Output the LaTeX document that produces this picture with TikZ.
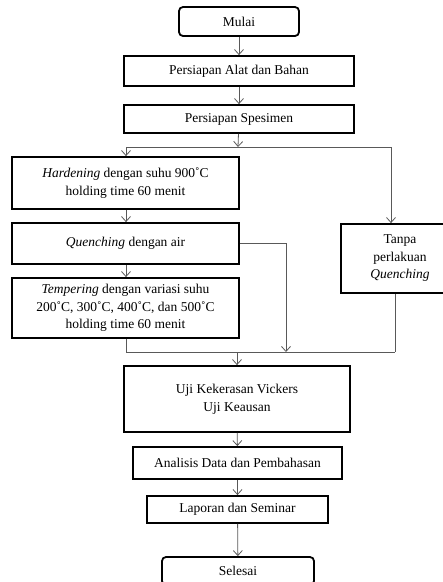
\documentclass[tikz,border=0pt]{standalone}
\usepackage{fontspec}
\setmainfont{Liberation Serif}
\usetikzlibrary{arrows.meta}

\tikzset{
 kotak/.style={draw=black,line width=1.8pt,align=center,inner sep=0pt,
  font=\fontsize{13.5}{17.5}\selectfont},
 bulat/.style={kotak,rounded corners=4pt},
 garis/.style={draw=black!65,line width=0.8pt},
 panah/.style={garis,-{Straight Barb[length=5pt,width=9pt]}}
}

\begin{document}
\begin{tikzpicture}[x=1pt,y=-1pt]
 \useasboundingbox (0,0) rectangle (443,582); %全体
 \node[bulat,minimum width=120pt,minimum height=29pt] (mulai) at (239,21.5) {Mulai}; %開始
 \node[kotak,minimum width=230pt,minimum height=30pt] (alat) at (239,71) {Persiapan Alat dan Bahan};
 \node[kotak,minimum width=230pt,minimum height=28pt] (spesimen) at (239,119) {Persiapan Spesimen};
 \node[kotak,minimum width=227pt,minimum height=52pt] (hardening) at (125.5,183)
  {\textit{Hardening} dengan suhu 900˚C\\holding time 60 menit};
 \node[kotak,minimum width=227pt,minimum height=41pt] (quenching) at (125.5,243.5)
  {\textit{Quenching} dengan air};
 \node[kotak,minimum width=227pt,minimum height=60pt] (tempering) at (125.5,308)
  {\textit{Tempering} dengan variasi suhu\\200˚C, 300˚C, 400˚C, dan 500˚C\\holding time 60 menit};
 \node[kotak,minimum width=118pt,minimum height=69pt] (tanpa) at (400,258.5)
  {Tanpa\\perlakuan\\\textit{Quenching}}; %右の枝
 \node[kotak,minimum width=226pt,minimum height=66pt] (uji) at (237,399)
  {Uji Kekerasan Vickers\\Uji Keausan};
 \node[kotak,minimum width=209pt,minimum height=32pt] (analisis) at (237.5,463) {Analisis Data dan Pembahasan};
 \node[kotak,minimum width=181pt,minimum height=27pt] (laporan) at (237.5,509.5) {Laporan dan Seminar};
 \node[bulat,minimum width=152pt,minimum height=28pt] (selesai) at (238,571) {Selesai}; %終了

 \coordinate (cabang) at (238,147); %分岐点
 \coordinate (cabangL) at (126,147);
 \coordinate (cabangR) at (391,147);
 \coordinate (gabung) at (237,352); %合流点
 \coordinate (gabungL) at (126,352);
 \coordinate (gabungQ) at (286,352);
 \coordinate (gabungR) at (395,352);

 \draw[panah] (mulai) -- (alat);
 \draw[panah] (alat) -- (spesimen);
 \draw[panah] (spesimen) -- (cabang);
 \draw[garis] (cabangL) -- (cabangR);
 \draw[panah] (cabangL) -- (hardening.north -| cabangL);
 \draw[panah] (cabangR) -- (tanpa.north -| cabangR);
 \draw[panah] (hardening.south -| cabangL) -- (quenching.north -| cabangL);
 \draw[panah] (quenching.south -| cabangL) -- (tempering.north -| cabangL);
 \draw[panah] (quenching.east) -| (gabungQ); %焼入れのみ
 \draw[garis] (tempering.south -| gabungL) -- (gabungL);
 \draw[garis] (tanpa.south -| gabungR) -- (gabungR);
 \draw[garis] (gabungL) -- (gabungR);
 \draw[panah] (gabung) -- (uji);
 \draw[panah] (uji) -- (analisis);
 \draw[panah] (analisis) -- (laporan);
 \draw[panah] (laporan) -- (selesai);
\end{tikzpicture}
\end{document}
